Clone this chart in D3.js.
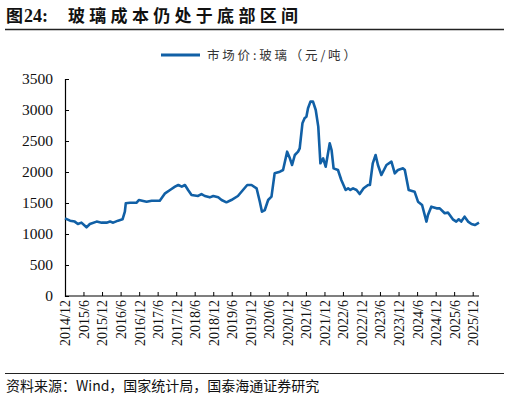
<!DOCTYPE html>
<html>
<head>
<meta charset="utf-8">
<script src="https://cdn.jsdelivr.net/npm/d3@7"></script>
<style>
  body { margin: 0; background: #fff; }
  svg { display: block; }
</style>
</head>
<body>
<svg id="chart" width="509" height="400"></svg>
<script>
// glass market price, yuan/ton
const dates = [
  '2014-12-01','2015-01-20','2015-03-07','2015-04-07','2015-05-12','2015-07-01','2015-08-03','2015-10-09',
  '2015-11-27','2016-01-15','2016-02-18','2016-03-20','2016-05-07','2016-06-20','2016-07-13','2016-07-22',
  '2016-09-01','2016-11-06','2016-11-28','2017-02-12','2017-04-03','2017-06-22','2017-08-13','2017-10-01',
  '2017-11-19','2017-12-22','2018-01-25','2018-02-25','2018-03-28','2018-05-01','2018-07-04','2018-08-07',
  '2018-09-09','2018-10-28','2018-12-01','2019-01-19','2019-02-21','2019-04-10','2019-05-28','2019-08-01',
  '2019-09-20','2019-11-01','2019-12-13','2020-02-01','2020-03-04','2020-03-25','2020-04-22','2020-05-25',
  '2020-06-27','2020-07-28','2020-09-18','2020-10-19','2020-11-28','2020-12-25','2021-01-16','2021-02-12',
  '2021-03-16','2021-04-01','2021-04-28','2021-05-19','2021-06-06','2021-06-22','2021-07-16','2021-08-10',
  '2021-09-06','2021-10-01','2021-10-22','2021-11-18','2021-12-13','2022-01-22','2022-02-09','2022-03-01',
  '2022-04-13','2022-05-16','2022-06-28','2022-07-22','2022-08-13','2022-09-09','2022-10-13','2022-11-13',
  '2022-12-22','2023-02-04','2023-02-22','2023-03-22','2023-04-19','2023-05-12','2023-06-15','2023-08-04',
  '2023-09-22','2023-10-25','2023-11-25','2024-01-15','2024-02-01','2024-03-10','2024-05-07','2024-06-10',
  '2024-07-20','2024-09-01','2024-09-16','2024-10-19','2024-12-10','2025-01-10','2025-02-28','2025-04-01',
  '2025-05-19','2025-06-22','2025-07-16','2025-08-10','2025-09-12','2025-10-16','2025-11-19','2025-12-22',
  '2026-02-01'
];
const prices = [
  1253,1215,1200,1161,1183,1108,1161,1200,
  1183,1183,1200,1183,1215,1237,1360,1495,
  1505,1505,1548,1521,1537,1537,1656,1710,
  1763,1790,1763,1790,1710,1629,1613,1645,
  1613,1591,1613,1591,1548,1511,1548,1613,
  1710,1790,1790,1737,1521,1360,1387,1548,
  1602,1979,2005,2032,2328,2221,2113,2274,
  2328,2382,2785,2866,2893,3028,3135,3135,
  3000,2731,2140,2221,2086,2463,2355,2059,
  2032,1871,1710,1737,1710,1737,1710,1645,
  1737,1790,1790,2140,2274,2113,1952,2113,
  2167,1979,2032,2059,2032,1710,1683,1521,
  1468,1200,1307,1441,1414,1414,1334,1345,
  1237,1200,1237,1200,1280,1200,1161,1145,
  1183
];
const tickLabels = [
  '2014/12','2015/6','2015/12','2016/6','2016/12','2017/6','2017/12','2018/6','2018/12',
  '2019/6','2019/12','2020/6','2020/12','2021/6','2021/12','2022/6','2022/12','2023/6',
  '2023/12','2024/6','2024/12','2025/6','2025/12'
];
const yTicks = [0, 500, 1000, 1500, 2000, 2500, 3000, 3500];
const seriesName = '市场价:玻璃（元/吨）';

const parse = d3.timeParse('%Y-%m-%d');
const parseTick = d3.timeParse('%Y/%m');
const data = dates.map((d, i) => ({ date: parse(d), value: prices[i] }));

const svg = d3.select('#chart');
const serif = '"Liberation Serif", "Times New Roman", serif';
const cjk = '"Noto Sans CJK SC", sans-serif';
const blue = '#1160a6';

const x = d3.scaleTime()
  .domain([parseTick('2014/12'), parse('2026-02-01')])
  .range([65, 479]);
const y = d3.scaleLinear().domain([0, 3500]).range([296, 79]);

// title
const title = svg.append('text').attr('x', 6).attr('y', 22)
  .attr('font-weight', 'bold').attr('fill', '#111');
title.append('tspan').attr('font-family', cjk).attr('font-size', 17).text('图');
title.append('tspan').attr('font-family', serif).attr('font-size', 18).attr('dx', 1).text('24:');
title.append('tspan').attr('x', 68).attr('font-family', cjk).attr('font-size', 17)
  .attr('letter-spacing', 4.3).text('玻璃成本仍处于底部区间');

svg.append('line').attr('x1', 5).attr('x2', 504).attr('y1', 29.5).attr('y2', 29.5)
  .attr('stroke', '#222').attr('stroke-width', 1.5);

// legend
svg.append('line').attr('x1', 161).attr('x2', 200).attr('y1', 55).attr('y2', 55)
  .attr('stroke', blue).attr('stroke-width', 3);
svg.append('text').attr('x', 207).attr('y', 59.5)
  .attr('font-family', cjk).attr('font-size', 12.5).attr('fill', '#333')
  .attr('letter-spacing', 2.8).text(seriesName);

// y axis
const yAxis = svg.append('g').attr('transform', 'translate(65,0)')
  .call(d3.axisRight(y).tickValues(yTicks).tickSize(4).tickFormat(d3.format('d')));
yAxis.select('.domain').attr('stroke', '#000').attr('stroke-width', 1.2);
yAxis.selectAll('.tick line').attr('stroke', '#000');
yAxis.selectAll('.tick text').attr('x', -12).attr('text-anchor', 'end')
  .attr('font-family', serif).attr('font-size', 15.5).attr('fill', '#111');

// x axis
const xAxis = svg.append('g').attr('transform', 'translate(0,296)')
  .call(d3.axisTop(x).tickValues(tickLabels.map(parseTick)).tickSize(4)
    .tickFormat((d, i) => tickLabels[i]));
xAxis.select('.domain').attr('stroke', '#000').attr('stroke-width', 1.2)
  .attr('d', 'M65,0H479');
xAxis.selectAll('.tick line').attr('stroke', '#000');
xAxis.selectAll('.tick text')
  .attr('transform', 'rotate(-90)')
  .attr('x', -4).attr('y', 0).attr('dy', '0.35em')
  .attr('text-anchor', 'end')
  .attr('font-family', serif).attr('font-size', 14).attr('fill', '#111');

// series
svg.append('path').datum(data)
  .attr('fill', 'none').attr('stroke', blue).attr('stroke-width', 2.6)
  .attr('stroke-linejoin', 'round')
  .attr('d', d3.line().x(d => x(d.date)).y(d => y(d.value)));

// source
svg.append('line').attr('x1', 5).attr('x2', 504).attr('y1', 373.5).attr('y2', 373.5)
  .attr('stroke', '#222').attr('stroke-width', 1.2);
svg.append('text').attr('x', 6).attr('y', 391)
  .attr('font-family', cjk).attr('font-size', 14).attr('fill', '#111')
  .text('资料来源：Wind，国家统计局，国泰海通证券研究');
</script>
</body>
</html>
